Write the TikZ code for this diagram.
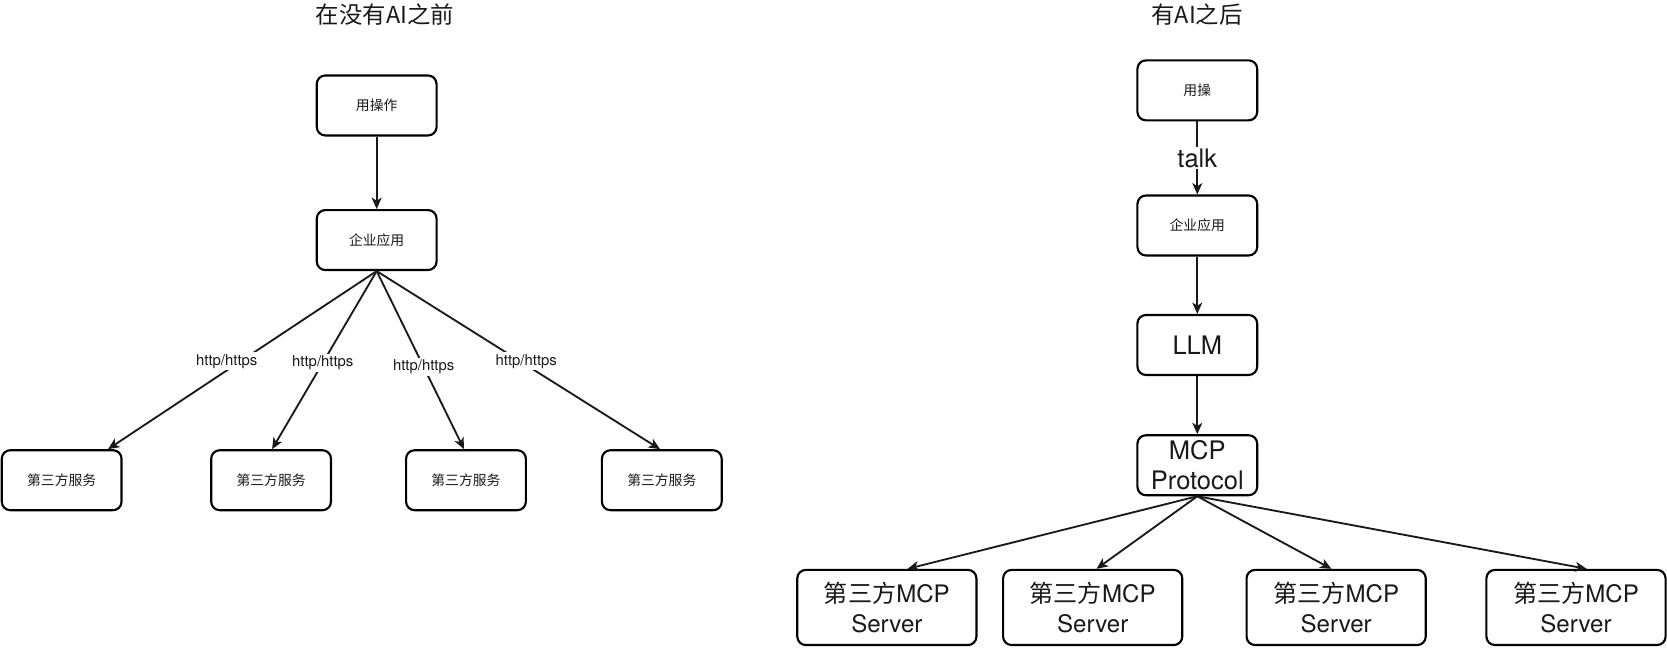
\documentclass[tikz,border=0pt]{standalone}
\usepackage{fontspec}
\setmainfont{TeX Gyre Heros}
\newfontfamily\cjk{Noto Sans CJK SC}
\usetikzlibrary{arrows.meta,calc}
\begin{document}
\begin{tikzpicture}[x=0.75pt,y=-0.75pt,
  box/.style={draw=black, line width=1.5pt, rounded corners=6pt, minimum width=84.5pt, minimum height=42.3pt, inner sep=0pt, align=center, text=black!90},
  bigbox/.style={box, minimum width=126.4pt, minimum height=53pt},
  arr/.style={draw=black!90, line width=1.3pt, -{Stealth[length=8pt,width=7pt,inset=2.2pt]}},
  lbl/.style={fill=white, inner sep=1.5pt, font=\fontsize{10.5pt}{12pt}\selectfont, text=black!90},
  ttl/.style={font=\cjk\fontsize{16.5pt}{19pt}\selectfont, text=black!90},
  sm/.style={font=\cjk\fontsize{9.75pt}{11pt}\selectfont},
  lg/.style={font=\fontsize{18pt}{21pt}\selectfont},
  md/.style={font=\fontsize{17pt}{21.5pt}\selectfont}
]
\useasboundingbox (0,0) rectangle (1568,608.6);

% titles
\node[ttl] (t1) at (362,14) {在没有AI之前};
\node[ttl] (t2) at (1126,14) {有AI之后};

% left diagram
\node[box, sm] (u1) at (354.3,99.2) {用操作};
\node[box, sm] (a1) at (354.3,225.8) {企业应用};
\node[box, sm] (s1) at (58,451.7) {第三方服务};
\node[box, sm] (s2) at (255,451.7) {第三方服务};
\node[box, sm] (s3) at (438.3,451.7) {第三方服务};
\node[box, sm] (s4) at (622.5,451.7) {第三方服务};

\coordinate (e1) at ($(s1.north west)!0.88!(s1.north east)$);
\coordinate (e2) at ($(s2.north west)!0.508!(s2.north east)$);
\coordinate (e3) at ($(s3.north west)!0.484!(s3.north east)$);
\coordinate (e4) at ($(s4.north west)!0.485!(s4.north east)$);

\draw[arr] (u1.south) -- (a1.north);
\draw[arr] (a1.south) -- node[lbl, pos=0.558, yshift=6.5pt] (l1) {http/https} (e1);
\draw[arr] (a1.south) -- node[lbl, pos=0.515] (l2) {http/https} (e2);
\draw[arr] (a1.south) -- node[lbl, pos=0.538] (l3) {http/https} (e3);
\draw[arr] (a1.south) -- node[lbl, pos=0.528, yshift=2.7pt] (l4) {http/https} (e4);

% right diagram
\node[box, sm] (u2) at (1126.2,85) {用操};
\node[box, sm] (a2) at (1126.2,212.1) {企业应用};
\node[box, lg] (llm) at (1126.2,324.5) {LLM};
\node[box, lg] (mcp) at (1126.2,437.6) {MCP\\Protocol};
\node[bigbox, md] (m1) at (834.2,571.4) {{\cjk 第三方}MCP\\Server};
\node[bigbox, md] (m2) at (1027.8,571.4) {{\cjk 第三方}MCP\\Server};
\node[bigbox, md] (m3) at (1256.8,571.4) {{\cjk 第三方}MCP\\Server};
\node[bigbox, md] (m4) at (1482.4,571.4) {{\cjk 第三方}MCP\\Server};

\coordinate (f1) at ($(m1.north west)!0.614!(m1.north east)$);
\coordinate (f2) at ($(m2.north west)!0.521!(m2.north east)$);
\coordinate (f3) at ($(m3.north west)!0.474!(m3.north east)$);
\coordinate (f4) at ($(m4.north west)!0.559!(m4.north east)$);

\draw[arr] (u2.south) -- node[lbl, lg, inner sep=1pt] (tk) {talk} (a2.north);
\draw[arr] (a2.south) -- (llm.north);
\draw[arr] (llm.south) -- (mcp.north);
\draw[arr] (mcp.south) -- (f1);
\draw[arr] (mcp.south) -- (f2);
\draw[arr] (mcp.south) -- (f3);
\draw[arr] (mcp.south) -- (f4);
\end{tikzpicture}
\end{document}
